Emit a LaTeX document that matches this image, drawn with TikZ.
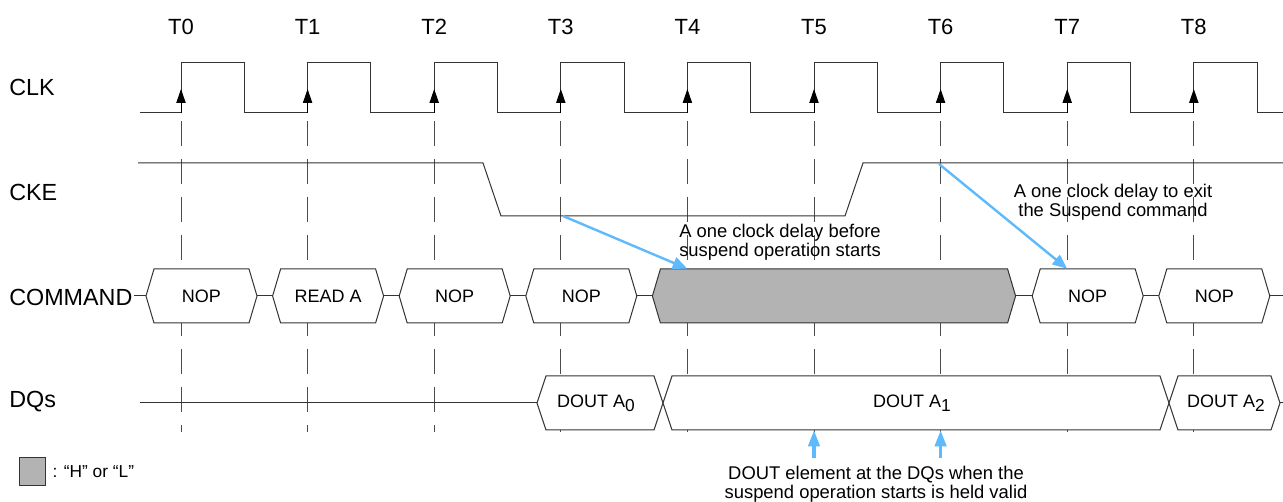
\documentclass[tikz,border=0pt]{standalone}
\usepackage{fontspec}
\setmainfont{Liberation Sans}
\usetikzlibrary{arrows.meta,positioning,calc}
\definecolor{holdgray}{RGB}{179,179,179}
\definecolor{noteblue}{RGB}{94,186,252}

\begin{document}
\begin{tikzpicture}[
  x=0.75pt, y=-0.75pt,
  wave/.style={line width=0.75pt, black!80},
  dashline/.style={line width=0.75pt, black!70, dash pattern=on 18.75pt off 9.75pt},
  edgetip/.style={-{Triangle[length=10.5pt,width=7pt]}, line width=0.75pt, black},
  hexline/.style={line width=0.75pt, black!80, fill=white},
  rowlbl/.style={font=\fontsize{17.5}{19}\selectfont, anchor=west, inner sep=0pt},
  tlbl/.style={font=\fontsize{16.5}{18}\selectfont, inner sep=0pt},
  boxtxt/.style={font=\fontsize{13.5}{15}\selectfont, inner sep=0pt, minimum height=40.5pt},
  note/.style={font=\fontsize{13.8}{14.5}\selectfont, align=center, inner sep=0pt},
  bluearrow/.style={-{Triangle[length=11pt,width=9pt]}, line width=1.8pt, noteblue},
  validarrow/.style={-{Triangle[length=12pt,width=8.5pt]}, line width=2.4pt, noteblue}
]
  \useasboundingbox (0,0) rectangle (1283,502);

  % clock edges, labels and guide lines
  \foreach \n in {0,...,8} {
    \pgfmathsetmacro{\tx}{181+126.6*\n}
    \node[tlbl] (t\n) at (\tx,27) {T\n};
    \draw[dashline] (\tx,121) -- (\tx,432);
  }

  \node[rowlbl] (clk)     at (9,87)  {CLK};
  \node[rowlbl] (cke)     at (9,192) {CKE};
  \node[rowlbl] (command) at (9,297) {COMMAND};
  \node[rowlbl] (dqs)     at (9,402) {DQs};

  % CLK
  \draw[wave] (140,113) \foreach \n in {0,...,8} {
      -- ({181+126.6*\n},113) -- ({181+126.6*\n},63)
      -- ({244.3+126.6*\n},63) -- ({244.3+126.6*\n},113)} -- (1283,113);
  \foreach \n in {0,...,8}
    \draw[edgetip] ({181+126.6*\n},113) -- ({181+126.6*\n},89);

  % CKE
  \draw[wave] (138,163) -- (483,163) -- (501,216) -- (845,216) -- (863,163) -- (1283,163);
  \coordinate (ckefall) at (563,216);
  \coordinate (ckerise) at (939,164);

  % COMMAND
  \draw[wave] (134,296) -- (1283,296);
  \foreach \n/\lab in {0/NOP,1/READ A,2/NOP,3/NOP,7/NOP,8/NOP} {
    \pgfmathsetmacro{\xl}{181+126.6*\n-35}
    \pgfmathsetmacro{\xr}{\xl+111}
    \draw[hexline] (\xl,296) -- (\xl+8,269) -- (\xr-8,269) -- (\xr,296)
                   -- (\xr-8,323) -- (\xl+8,323) -- cycle;
    \node[boxtxt] (cmd\n) at ({\xl+55.5},296) {\lab};
  }
  \draw[hexline, fill=holdgray] (652.4,296) -- (660.4,269) -- (1007.6,269) -- (1015.6,296)
                                -- (1007.6,323) -- (660.4,323) -- cycle;
  \node[boxtxt] (hold) at (834,296) {};

  % DQs
  \draw[wave] (140,403) -- (1283,403);
  \draw[hexline] (537,403) -- (546,376) -- (654,376) -- (663,403) -- (654,430) -- (546,430) -- cycle;
  \draw[hexline] (663,403) -- (672,376) -- (1160,376) -- (1169,403) -- (1160,430) -- (672,430) -- cycle;
  \draw[hexline] (1169,403) -- (1178,376) -- (1271,376) -- (1280,403) -- (1271,430) -- (1178,430) -- cycle;
  \node[boxtxt] (dout0) at (596,403)  {DOUT A\raisebox{-0.45ex}{\fontsize{13}{13}\selectfont 0}};
  \node[boxtxt] (dout1) at (912,403)  {DOUT A\raisebox{-0.45ex}{\fontsize{13}{13}\selectfont 1}};
  \node[boxtxt] (dout2) at (1226,403) {DOUT A\raisebox{-0.45ex}{\fontsize{13}{13}\selectfont 2}};

  % notes
  \node[note] (noteenter) at (780,242)  {A one clock delay before\\suspend operation starts};
  \node[note] (noteexit)  at (1113,202) {A one clock delay to exit\\the Suspend command};
  \node[note] (notevalid) at (876,484)  {DOUT element at the DQs when the\\suspend operation starts is held valid};

  \draw[bluearrow] (ckefall) -- (t4 |- hold.north);
  \draw[bluearrow] (ckerise) -- (t7 |- cmd7.north);
  \draw[validarrow] (t5 |- 0,458) -- (t5 |- dout1.south);
  \draw[validarrow] (t6 |- 0,458) -- (t6 |- dout1.south);

  % legend
  \node[draw=black!80, fill=holdgray, line width=0.75pt, inner sep=0pt,
        minimum width=20pt, minimum height=21pt] (legbox) at (32.5,472) {};
  \node[font=\fontsize{13}{14}\selectfont, inner sep=0pt, right=4.5pt of legbox] (legtxt) {: “H” or “L”};
\end{tikzpicture}
\end{document}
